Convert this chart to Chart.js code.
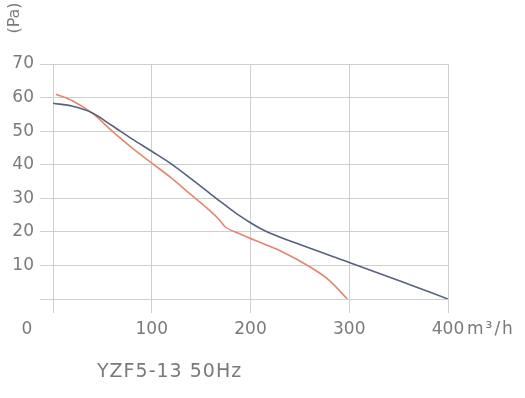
<!DOCTYPE html>
<html>
<head>
<meta charset="utf-8">
<script src="https://cdn.jsdelivr.net/npm/chart.js@4/dist/chart.umd.min.js"></script>
<style>
  html, body { margin: 0; padding: 0; background: #ffffff; }
  #wrap { position: relative; width: 525px; height: 398px; }
</style>
</head>
<body>
<div id="wrap"><canvas id="c" width="525" height="398"></canvas></div>
<script>
// Data
const blueFlow = [0, 20, 40, 60, 80, 100, 120, 140, 160, 170, 180, 190, 200, 210, 220, 250, 300, 350, 400];
const bluePressure = [58.3, 57.4, 55.4, 51.6, 47.7, 44, 40.2, 35.8, 31.2, 28.9, 26.7, 24.6, 22.7, 21.0, 19.6, 16.2, 10.9, 5.5, 0];
const redFlow = [3, 20, 40, 60, 80, 100, 120, 140, 160, 169, 174, 190, 210, 230, 260, 280, 298];
const redPressure = [61, 59, 55.3, 50, 45, 40.5, 36, 31, 26, 23.4, 21.6, 19.3, 16.8, 14.4, 9.6, 5.5, 0];
const xTicks = [0, 100, 200, 300, 400];
const yTicks = [0, 10, 20, 30, 40, 50, 60, 70];
const xUnit = 'm³/h';
const yUnit = '(Pa)';
const chartLabel = 'YZF5-13 50Hz';

const textColor = '#7a7a7a';
const gridColor = '#cfcfcf';
const fontFamily = '"DejaVu Sans", "Liberation Sans", sans-serif';

const toPoints = (xs, ys) => xs.map((x, i) => ({ x: x, y: ys[i] }));

const extraText = {
  id: 'extraText',
  afterDraw(chart) {
    const ctx = chart.ctx;
    const xs = chart.scales.x;
    ctx.save();
    ctx.fillStyle = textColor;
    ctx.font = '17px ' + fontFamily;
    ctx.textBaseline = 'middle';
    // origin label
    ctx.textAlign = 'center';
    ctx.fillText(String(xTicks[0]), xs.left - 26, 330);
    // x unit
    ctx.textAlign = 'left';
    ctx.letterSpacing = '2px';
    ctx.fillText(xUnit, xs.right + 19, 330);
    // caption
    ctx.letterSpacing = '1px';
    ctx.font = '19px ' + fontFamily;
    ctx.fillText(chartLabel, 97, 372);
    ctx.letterSpacing = '0px';
    // y unit rotated
    ctx.translate(15, 18);
    ctx.rotate(-Math.PI / 2);
    ctx.textAlign = 'center';
    ctx.font = '16px ' + fontFamily;
    ctx.fillText(yUnit, 0, 0);
    ctx.restore();
  }
};

new Chart(document.getElementById('c'), {
  type: 'line',
  data: {
    datasets: [
      {
        label: 'A',
        data: toPoints(blueFlow, bluePressure),
        borderColor: '#56627e',
        borderWidth: 1.6,
        pointRadius: 0,
        cubicInterpolationMode: 'monotone',
        fill: false
      },
      {
        label: 'B',
        data: toPoints(redFlow, redPressure),
        borderColor: '#e58670',
        borderWidth: 1.6,
        pointRadius: 0,
        cubicInterpolationMode: 'monotone',
        fill: false
      }
    ]
  },
  options: {
    responsive: false,
    animation: false,
    events: [],
    layout: { padding: { top: 64, right: 77, bottom: 0, left: 0 } },
    plugins: { legend: { display: false }, tooltip: { enabled: false }, title: { display: false } },
    scales: {
      x: {
        type: 'linear',
        min: xTicks[0],
        max: xTicks[xTicks.length - 1],
        afterBuildTicks(scale) { scale.ticks = xTicks.map(v => ({ value: v })); },
        afterFit(scale) { scale.height = 99; },
        grid: { color: gridColor, lineWidth: 1, drawTicks: true, tickLength: 14, tickColor: gridColor },
        border: { color: gridColor, width: 1 },
        ticks: {
          color: textColor,
          font: { family: fontFamily, size: 17 },
          padding: 6,
          maxRotation: 0,
          callback: (v) => (v === 0 ? '' : String(v))
        }
      },
      y: {
        type: 'linear',
        min: yTicks[0],
        max: yTicks[yTicks.length - 1],
        afterBuildTicks(scale) { scale.ticks = yTicks.map(v => ({ value: v })); },
        afterFit(scale) { scale.width = 53; },
        grid: { color: gridColor, lineWidth: 1, drawTicks: true, tickLength: 13, tickColor: gridColor },
        border: { color: gridColor, width: 1 },
        ticks: {
          color: textColor,
          font: { family: fontFamily, size: 17 },
          padding: 6,
          callback: (v) => (v === 0 ? '' : String(v))
        }
      }
    }
  },
  plugins: [extraText]
});
</script>
</body>
</html>
